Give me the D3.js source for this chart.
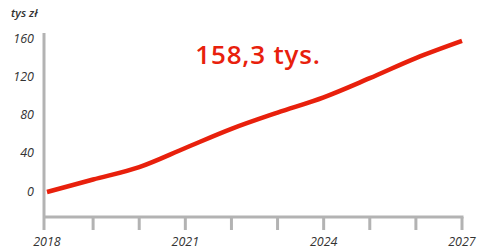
<!DOCTYPE html>
<html>
<head>
<meta charset="utf-8">
<script src="https://cdn.jsdelivr.net/npm/d3@7"></script>
<style>
  body { margin: 0; background: #fff; }
  svg text { font-family: "Open Sans", sans-serif; }
</style>
</head>
<body>
<svg width="481" height="250"></svg>
<script>
// data
var years = [2018, 2019, 2020, 2021, 2022, 2023, 2024, 2025, 2026, 2027];
var values = [-1, 12, 25, 45, 65, 82, 98, 118, 139, 157];
var yTicks = [0, 40, 80, 120, 160];
var xLabels = [2018, 2021, 2024, 2027];
var unitLabel = "tys zł";
var headline = "158,3 tys.";

var svg = d3.select("svg");

// scales
var x = d3.scaleLinear().domain([2018, 2027]).range([47, 462]);
var y = d3.scaleLinear().domain([0, 160]).range([191, 38]);

// y axis line
svg.append("line")
    .attr("x1", 44).attr("x2", 44)
    .attr("y1", 33).attr("y2", 230)
    .attr("stroke", "#b3b3b3").attr("stroke-width", 3);

// x axis line
svg.append("line")
    .attr("x1", 44).attr("x2", x(2027) + 1.5)
    .attr("y1", 217).attr("y2", 217)
    .attr("stroke", "#b3b3b3").attr("stroke-width", 3);

// x ticks
svg.selectAll("line.xt")
    .data(years.slice(1))
    .enter()
    .append("line")
    .attr("class", "xt")
    .attr("x1", function(d){ return x(d); })
    .attr("x2", function(d){ return x(d); })
    .attr("y1", 217).attr("y2", 230)
    .attr("stroke", "#b3b3b3").attr("stroke-width", 3);

// x labels
svg.selectAll("text.xl")
    .data(xLabels)
    .enter()
    .append("text")
    .attr("class", "xl")
    .attr("x", function(d){ return x(d); })
    .attr("y", 246)
    .attr("text-anchor", "middle")
    .attr("font-size", 12.5)
    .attr("font-style", "italic")
    .attr("fill", "#333")
    .text(function(d){ return d; });

// y labels
svg.selectAll("text.yl")
    .data(yTicks)
    .enter()
    .append("text")
    .attr("class", "yl")
    .attr("x", 34)
    .attr("y", function(d){ return y(d) + 4.5; })
    .attr("text-anchor", "end")
    .attr("font-size", 12.5)
    .attr("font-style", "italic")
    .attr("fill", "#333")
    .text(function(d){ return d; });

// unit
svg.append("text")
    .attr("x", 11).attr("y", 17)
    .attr("font-size", 11.5)
    .attr("font-style", "italic")
    .attr("font-weight", 600)
    .attr("fill", "#333")
    .text(unitLabel);

// line
var line = d3.line()
    .x(function(d, i){ return x(years[i]); })
    .y(function(d){ return y(d); })
    .curve(d3.curveMonotoneX);

svg.append("path")
    .datum(values)
    .attr("d", line)
    .attr("fill", "none")
    .attr("stroke", "#e8200c")
    .attr("stroke-width", 4.5)
    .attr("stroke-linejoin", "round");

// headline
svg.append("text")
    .attr("x", 258).attr("y", 64)
    .attr("text-anchor", "middle")
    .attr("font-size", 26)
    .attr("font-weight", 600)
    .attr("letter-spacing", 0.8)
    .attr("fill", "#e8200c")
    .text(headline);
</script>
</body>
</html>
